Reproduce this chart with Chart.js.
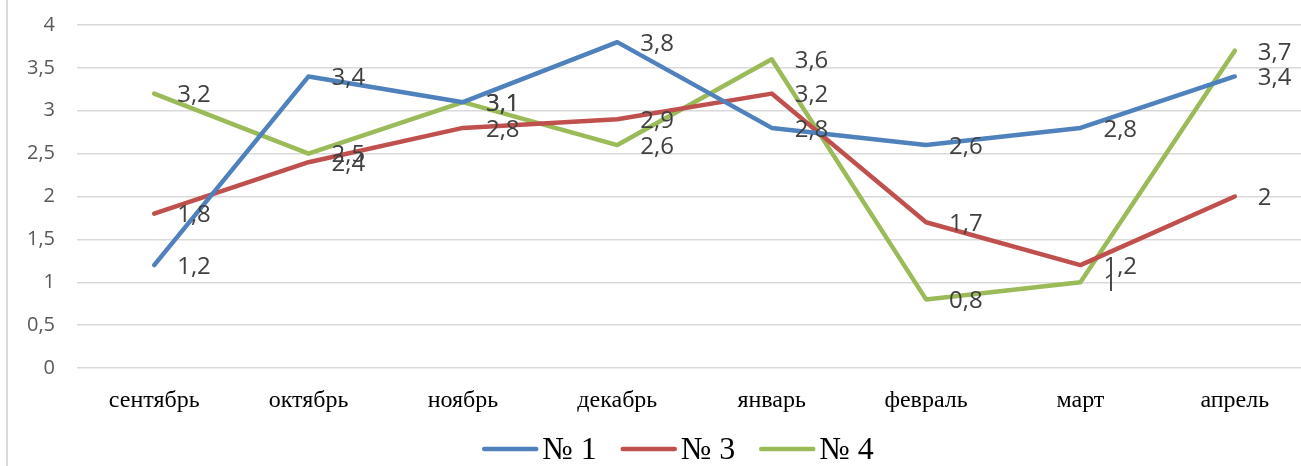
<!DOCTYPE html>
<html>
<head>
<meta charset="utf-8">
<script src="https://cdn.jsdelivr.net/npm/chart.js@4"></script>
<style>
  html, body { margin: 0; padding: 0; background: #fff; overflow: hidden; }
</style>
</head>
<body>
<canvas id="Graph" width="1312" height="466"></canvas>
<script>
let canvas = document.getElementById("Graph");

const months = ["сентябрь", "октябрь", "ноябрь", "декабрь", "январь", "февраль", "март", "апрель"];
const seriesNames = ["№ 1", "№ 3", "№ 4"];
const no1 = [1.2, 3.4, 3.1, 3.8, 2.8, 2.6, 2.8, 3.4];
const no3 = [1.8, 2.4, 2.8, 2.9, 3.2, 1.7, 1.2, 2];
const no4 = [3.2, 2.5, 3.1, 2.6, 3.6, 0.8, 1, 3.7];
const colors = ["#4F81BD", "#C0504D", "#9BBB59"];

const serif = "'Liberation Serif', 'Times New Roman', serif";
const commaNum = v => String(v).replace(".", ",");

// data labels on the right of every point, Excel style
const pointLabels = {
  id: "pointLabels",
  afterDatasetsDraw(chart) {
    const ctx = chart.ctx;
    ctx.save();
    ctx.font = "24px 'Open Sans'";
    ctx.fillStyle = "#404040";
    ctx.textAlign = "left";
    ctx.textBaseline = "middle";
    chart.data.datasets.forEach((ds, i) => {
      chart.getDatasetMeta(i).data.forEach((pt, j) => {
        ctx.fillText(commaNum(ds.data[j]), pt.x + 23, pt.y + 2);
      });
    });
    ctx.restore();
  }
};

// frame line on the left + legend drawn below the axis
const frameAndLegend = {
  id: "frameAndLegend",
  beforeDraw(chart) {
    const ctx = chart.ctx;
    ctx.save();
    ctx.strokeStyle = "#d9d9d9";
    ctx.lineWidth = 2;
    ctx.beginPath();
    ctx.moveTo(7, 0);
    ctx.lineTo(7, chart.height);
    ctx.stroke();
    ctx.restore();
  },
  afterDraw(chart) {
    const ctx = chart.ctx;
    const lineW = 56, gap = 4, itemGap = 24, y = 451;
    ctx.save();
    ctx.font = "32px " + serif;
    ctx.textBaseline = "middle";
    ctx.textAlign = "left";
    const items = chart.data.datasets.map(ds => ({ text: ds.label, color: ds.borderColor, w: ctx.measureText(ds.label).width }));
    let total = items.reduce((s, it) => s + lineW + gap + it.w, 0) + itemGap * (items.length - 1);
    let x = 678 - total / 2;
    items.forEach(it => {
      ctx.strokeStyle = it.color;
      ctx.lineWidth = 4.5;
      ctx.lineCap = "round";
      ctx.beginPath();
      ctx.moveTo(x + 2, y - 2);
      ctx.lineTo(x + lineW - 2, y - 2);
      ctx.stroke();
      ctx.fillStyle = "#000";
      ctx.fillText(it.text, x + lineW + gap, y);
      x += lineW + gap + it.w + itemGap;
    });
    ctx.restore();
  }
};

const data = {
  labels: months,
  datasets: [no1, no3, no4].map((arr, i) => ({
    label: seriesNames[i],
    data: arr,
    borderColor: colors[i],
    backgroundColor: colors[i],
    borderWidth: 4.5,
    borderCapStyle: "round",
    borderJoinStyle: "round",
    pointRadius: 0,
    tension: 0
  }))
};

const config = {
  type: "line",
  data: data,
  plugins: [frameAndLegend, pointLabels],
  options: {
    responsive: false,
    animation: false,
    layout: { padding: { top: 25, left: 0, right: 0, bottom: 50 } },
    plugins: {
      legend: { display: false },
      tooltip: { enabled: false }
    },
    scales: {
      x: {
        offset: true,
        grid: { display: false },
        border: { display: false },
        ticks: {
          color: "#000",
          padding: 10,
          maxRotation: 0,
          font: { family: serif, size: 24 }
        },
        afterFit(scale) { scale.height = 48; }
      },
      y: {
        min: 0,
        max: 4,
        grid: { color: "#d9d9d9", lineWidth: 1.5, drawTicks: false },
        border: { display: false },
        ticks: {
          stepSize: 0.5,
          padding: 22,
          color: "#595959",
          font: { family: "'Open Sans'", size: 20 },
          callback: v => commaNum(v)
        },
        afterFit(scale) {
          scale.width = 77;
          scale.paddingTop = 0;
          scale.paddingBottom = 0;
        }
      }
    }
  }
};

const chart = new Chart(canvas, config);
</script>
</body>
</html>
